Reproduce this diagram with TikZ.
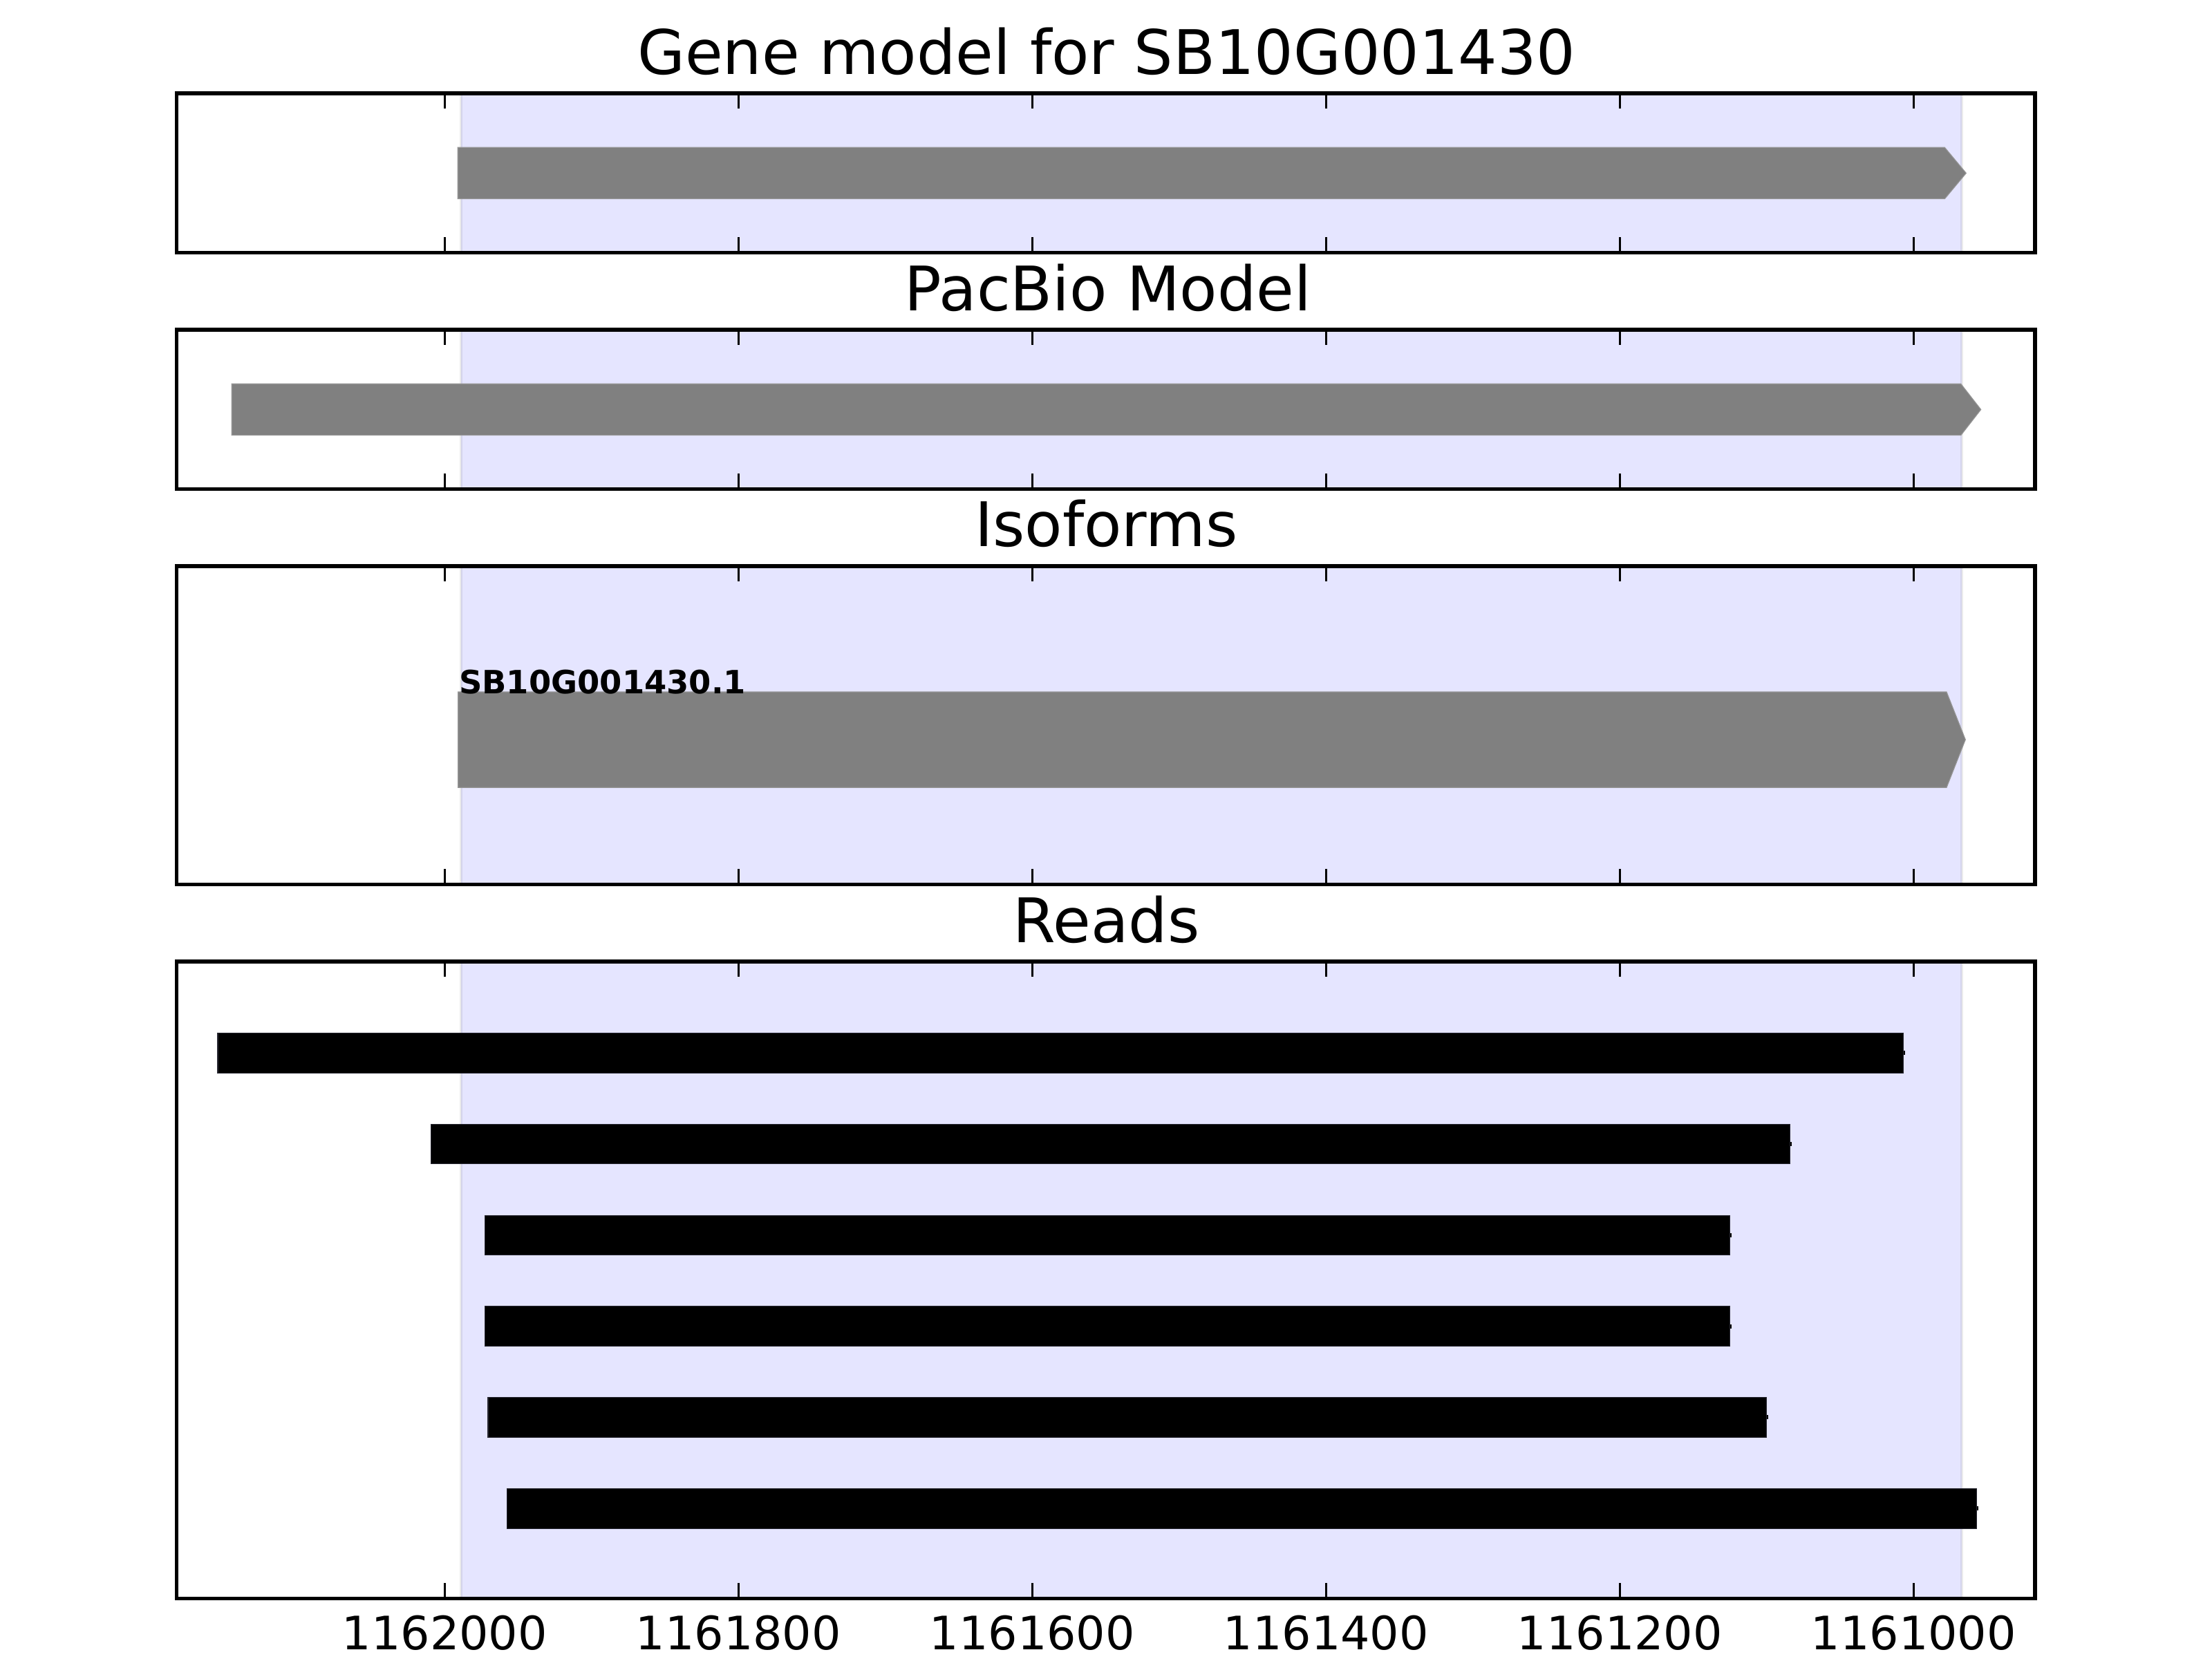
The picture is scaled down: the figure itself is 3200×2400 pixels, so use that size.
\documentclass[tikz,border=0pt]{standalone}
\usepackage{fontspec}
\setmainfont{DejaVu Sans}
\begin{document}
\begin{tikzpicture}[x=0.18bp,y=-0.18bp,
  spine/.style={line width=1bp, black, line join=miter},
  tickmark/.style={line width=0.5bp, black},
  spanfill/.style={fill={rgb,255:red,229;green,229;blue,255}},
  spanedge/.style={draw=black, draw opacity=0.08, line width=0.8bp},
  genebar/.style={fill={rgb,255:red,128;green,128;blue,128}, draw={rgb,255:red,150;green,150;blue,150}, line width=0.2bp},
  readbar/.style={fill=black, draw={rgb,255:red,40;green,40;blue,50}, line width=0.2bp},
  titletext/.style={font=\fontsize{16bp}{19bp}\selectfont, anchor=base, inner sep=0pt},
  ticklabel/.style={font=\fontsize{12bp}{14bp}\selectfont, anchor=base, inner sep=0pt},
  isolabel/.style={font=\bfseries\fontsize{8.35bp}{10bp}\selectfont, anchor=base west, inner sep=0pt}]
\useasboundingbox (0,0) rectangle (3200,2400);
\fill[white] (0,0) rectangle (3200,2400);
\def\AL{255.5}
\def\AR{2944}
% shaded span in every panel
\foreach \t/\b in {135/365.4, 476.9/707.3, 818.8/1279.6, 1391.1/2312.7} {
  \fill[spanfill] (667,\t) rectangle (2838,\b);
  \draw[spanedge] (667,\t) rectangle (2838,\b);
}
% gene model
\fill[genebar] (662.3,213.3) -- (2813.3,213.3) -- (2844.3,250.5) -- (2813.3,287.7) -- (662.3,287.7) -- cycle;
% PacBio model
\fill[genebar] (335.3,555.3) -- (2836.7,555.3) -- (2865.7,592.5) -- (2836.7,629.7) -- (335.3,629.7) -- cycle;
% isoform
\fill[genebar] (662.8,1001) -- (2816,1001) -- (2843.3,1070) -- (2816,1139.3) -- (662.8,1139.3) -- cycle;
\node[isolabel] (iso) at (663,1004) {SB10G001430.1};
% reads
\foreach \xl/\xr/\c in {315/2753.9/1523.3, 623.4/2589.7/1655.1, 701.5/2502.8/1786.9, 701.5/2502.8/1918.7, 706/2555.5/2050.5, 733.6/2859.7/2182.3} {
  \fill[readbar] (\xl,\c-28.8) rectangle (\xr,\c+28.8);
  \fill[black] (\xr,\c-3) rectangle (\xr+2.5,\c+3);
}
% spines and ticks
\foreach \t/\b in {135/365.4, 476.9/707.3, 818.8/1279.6, 1391.1/2312.7} {
  \draw[spine] (\AL,\t) rectangle (\AR,\b);
  \foreach \x in {643.3,1068.3,1493.3,1918.3,2343.3,2768.3} {
    \draw[tickmark] (\x,\t) -- ++(0,22.2);
    \draw[tickmark] (\x,\b) -- ++(0,-22.2);
  }
}
% titles
\node[titletext] (t1) at (1601,107.2) {Gene model for SB10G001430};
\node[titletext] (t2) at (1603,449.1) {PacBio Model};
\node[titletext] (t3) at (1600.5,791.0) {Isoforms};
\node[titletext] (t4) at (1600.5,1363.3) {Reads};
% tick labels
\node[ticklabel] (l1) at (643.3,2387) {1162000};
\node[ticklabel] (l2) at (1068.3,2387) {1161800};
\node[ticklabel] (l3) at (1493.3,2387) {1161600};
\node[ticklabel] (l4) at (1918.3,2387) {1161400};
\node[ticklabel] (l5) at (2343.3,2387) {1161200};
\node[ticklabel] (l6) at (2768.3,2387) {1161000};
\end{tikzpicture}
\end{document}
